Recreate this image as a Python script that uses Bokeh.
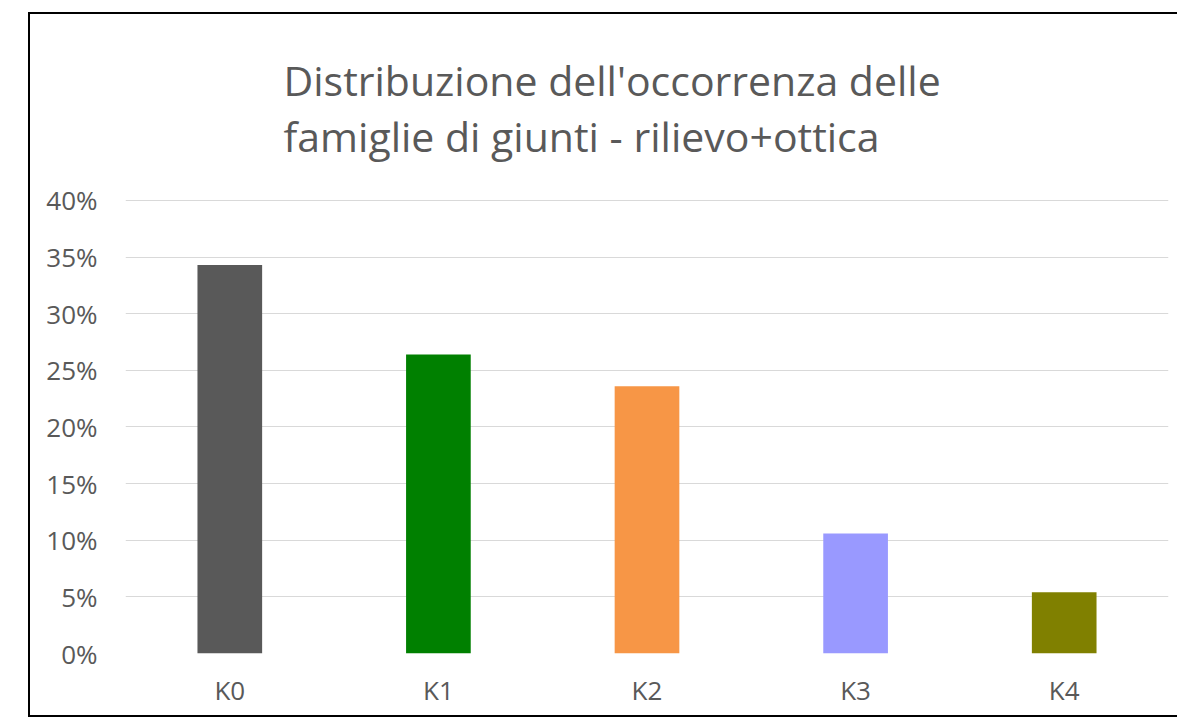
from bokeh.plotting import figure
from bokeh.layouts import column
from bokeh.models import FactorRange, Range1d, FixedTicker, NumeralTickFormatter, ColumnDataSource
from bokeh.embed import file_html
from bokeh.resources import INLINE

categories = ["K0", "K1", "K2", "K3", "K4"]
values = [0.343, 0.264, 0.236, 0.106, 0.054]
colors = ["#595959", "#008000", "#F79646", "#9999FF", "#808000"]
y_ticks = [0, 0.05, 0.10, 0.15, 0.20, 0.25, 0.30, 0.35, 0.40]
title_text = "Distribuzione dell'occorrenza delle\nfamiglie di giunti - rilievo+ottica"

src = ColumnDataSource(dict(cat=categories, val=values, col=colors))

p = figure(
    x_range=FactorRange(*categories, range_padding=0),
    y_range=Range1d(0, 0.4008),
    width=1147, height=701,
    output_backend="svg", toolbar_location=None,
    min_border_left=95, min_border_right=9, min_border_top=185, min_border_bottom=62,
)
p.margin = (2, 0, 2, 2)

p.vbar(x="cat", top="val", width=0.31, color="col", source=src, line_color=None)

p.title.text = title_text
p.title.align = "left"
p.title.offset = 158
p.title.text_font = "Open Sans"
p.title.text_font_style = "normal"
p.title.text_font_size = "41px"
p.title.text_color = "#595959"
p.title.text_line_height = 1.0
p.title.standoff = 71

p.outline_line_color = None
p.background_fill_color = "white"
p.border_fill_color = "white"

p.xgrid.grid_line_color = None
p.ygrid.grid_line_color = "#D9D9D9"
p.ygrid.grid_line_width = 1

p.yaxis.ticker = FixedTicker(ticks=y_ticks)
p.yaxis.formatter = NumeralTickFormatter(format="0%")
for ax in (p.xaxis[0], p.yaxis[0]):
    ax.axis_line_color = None
    ax.major_tick_line_color = None
    ax.minor_tick_line_color = None
    ax.major_label_text_font = "Open Sans"
    ax.major_label_text_color = "#595959"
p.yaxis.major_label_text_font_size = "26px"
p.yaxis.major_label_standoff = 22
p.xaxis.major_label_text_font_size = "26px"
p.xaxis.major_label_standoff = 12

layout = column(p, margin=(12, 0, 0, 28),
                styles={"background-color": "#fff",
                        "box-shadow": "inset 2px 2px 0 0 #000, inset 0 -2px 0 0 #000"})

open("out.html", "w").write(file_html(layout, INLINE))
